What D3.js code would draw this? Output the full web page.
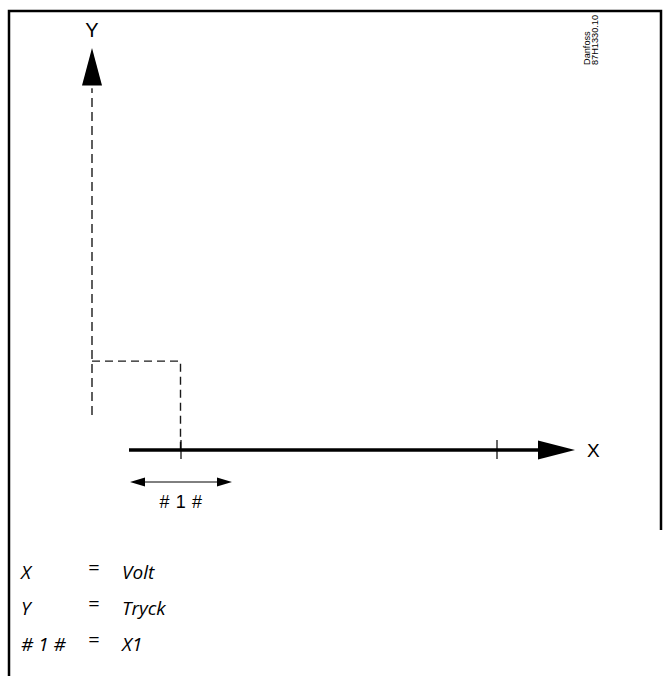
<!DOCTYPE html>
<html>
<head>
<meta charset="utf-8">
<script src="https://cdn.jsdelivr.net/npm/d3@7"></script>
<style>
  html, body { margin: 0; padding: 0; background: #fff; }
  svg { display: block; }
</style>
</head>
<body>
<script>
// ---- data (schematic units) ----
const axisLabels = ["X", "Y"];
const xTicks = [1.78, 8.1];            // tick marks on X axis
const stepPoint = { x: 1.77, y: 2.21 }; // dashed step corner
const xAxisExtent = [0.74, 9.66];       // X axis start, arrow tip
const yAxisExtent = [0.87, 10];         // Y axis bottom, arrow tip
const spanX1 = [0.76, 2.8];             // "# 1 #" double arrow span
const spanLabel = "# 1 #";
const legendKeys = ["X", "Y", "# 1 #"];
const legendValues = ["Volt", "Tryck", "X1"];
const stampLines = ["Danfoss", "87H1330.10"];

const W = 664, H = 676;
const svg = d3.select("body").append("svg").attr("width", W).attr("height", H);

const x = d3.scaleLinear().domain([0, 10]).range([92, 592]);
const y = d3.scaleLinear().domain([0, 10]).range([450, 48]);

// frame
svg.append("path").attr("d", `M9,${H} V11 H661 V530`)
  .attr("stroke", "#000").attr("stroke-width", 2.5).attr("fill", "none");

const ink = "#1a1a1a";

// Y axis dashed
svg.append("line")
  .attr("x1", x(0)).attr("x2", x(0))
  .attr("y1", y(yAxisExtent[0])).attr("y2", y(9.0))
  .attr("stroke", ink).attr("stroke-width", 1.4).attr("stroke-dasharray", "9,5");
svg.append("path")
  .attr("d", `M${x(0)},${y(yAxisExtent[1])} L${x(0) - 10},${y(9.07)} L${x(0) + 10},${y(9.07)} Z`)
  .attr("fill", "#000");
svg.append("text").attr("x", x(0)).attr("y", 37)
  .attr("text-anchor", "middle")
  .attr("font-family", "Liberation Sans, Arial, sans-serif").attr("font-size", 20)
  .text(axisLabels[1]);

// step dashed
svg.append("path")
  .attr("d", `M${x(0)},${y(stepPoint.y)} H${x(stepPoint.x)} V${y(0)}`)
  .attr("fill", "none").attr("stroke", ink).attr("stroke-width", 1.4).attr("stroke-dasharray", "8,5");

// X axis thick line
svg.append("line")
  .attr("x1", x(xAxisExtent[0])).attr("x2", x(8.95))
  .attr("y1", y(0)).attr("y2", y(0))
  .attr("stroke", "#000").attr("stroke-width", 3.5);
svg.append("path")
  .attr("d", `M${x(xAxisExtent[1])},${y(0)} L${x(8.92)},${y(0) - 9.5} L${x(8.92)},${y(0) + 9.5} Z`)
  .attr("fill", "#000");
svg.append("text").attr("x", x(9.9)).attr("y", y(0) + 7)
  .attr("font-family", "Liberation Sans, Arial, sans-serif").attr("font-size", 19)
  .text(axisLabels[0]);

// ticks
svg.selectAll("line.tick").data(xTicks).enter().append("line")
  .attr("class", "tick")
  .attr("x1", d => x(d)).attr("x2", d => x(d))
  .attr("y1", y(0) - 10).attr("y2", y(0) + 9)
  .attr("stroke", "#000").attr("stroke-width", 1.2);

// double arrow
const ay = 482;
svg.append("line")
  .attr("x1", x(spanX1[0]) + 8).attr("x2", x(spanX1[1]) - 8)
  .attr("y1", ay).attr("y2", ay)
  .attr("stroke", "#000").attr("stroke-width", 1);
svg.append("path")
  .attr("d", `M${x(spanX1[0])},${ay} l15,-4.5 v9 Z M${x(spanX1[1])},${ay} l-15,-4.5 v9 Z`)
  .attr("fill", "#000");
svg.append("text").attr("x", x((spanX1[0] + spanX1[1]) / 2)).attr("y", 508)
  .attr("text-anchor", "middle")
  .attr("font-family", "Liberation Sans, Arial, sans-serif").attr("font-size", 18)
  .attr("letter-spacing", 0.6)
  .text(spanLabel);

// stamp (rotated)
stampLines.forEach((s, i) => {
  svg.append("text")
    .attr("transform", `translate(${590 + i * 8},65) rotate(-90)`)
    .attr("font-family", "Liberation Sans, Arial, sans-serif").attr("font-size", 9.2)
    .text(s);
});

// legend
const legend = svg.append("g")
  .attr("font-family", "Open Sans, sans-serif").attr("font-style", "italic").attr("font-size", 19)
  .attr("fill", "#000");
legendKeys.forEach((k, i) => {
  const by = 579 + i * 36;
  legend.append("text").attr("x", 21).attr("y", by).text(k);
  legend.append("text").attr("x", 94).attr("y", by - 4).attr("text-anchor", "middle")
    .attr("font-style", "normal").attr("font-size", 20).text("=");
  legend.append("text").attr("x", 122).attr("y", by).text(legendValues[i]);
});
</script>
</body>
</html>
